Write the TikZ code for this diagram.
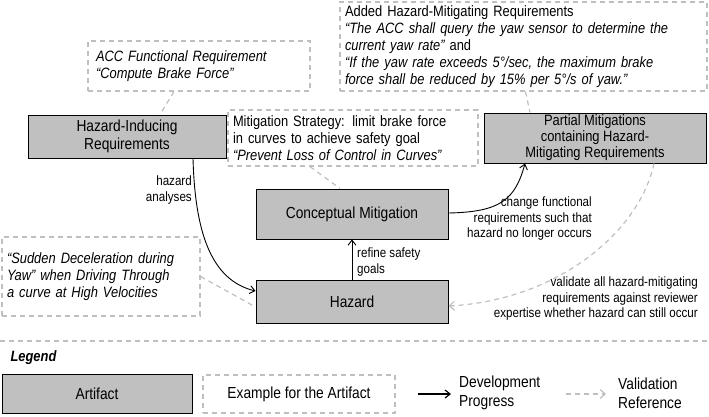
\documentclass[tikz,border=0pt]{standalone}
\usepackage{fontspec}
\setmainfont[FakeStretch=0.86]{Liberation Sans}
\usetikzlibrary{arrows.meta}
\definecolor{boxg}{HTML}{C0C0C0}
\definecolor{dg}{HTML}{BFBFBF}
\tikzset{
 art/.style={draw=black,fill=boxg,line width=1pt,align=center,font=\fontsize{16}{18}\selectfont},
 ex/.style={draw=dg,dashed,line width=1.2pt,dash pattern=on 5pt off 4pt,align=left,font=\fontsize{15}{17}\selectfont,inner sep=0pt},
 dev/.style={-{Straight Barb[length=5pt,width=8pt]},line width=0.9pt},
 val/.style={draw=dg,line width=1.2pt,dash pattern=on 5pt off 4pt,-{Straight Barb[length=5pt,width=9pt]}},
 vline/.style={draw=dg,line width=1.2pt,dash pattern=on 5pt off 4pt},
 lab/.style={font=\fontsize{13.5}{15.5}\selectfont,inner sep=0pt}
}
\begin{document}
\begin{tikzpicture}[x=1pt,y=-1pt]
\useasboundingbox (0,0) rectangle (709,416);
% artifacts
\node[art,minimum width=198,minimum height=43,inner sep=1pt] (hir) at (127,136.5) {Hazard-Inducing\\Requirements};
\node[art,minimum width=222,minimum height=50,inner sep=0pt,font=\fontsize{15}{16}\selectfont] (pm) at (595,138) {Partial Mitigations\\containing Hazard-\\Mitigating Requirements};
\node[art,minimum width=192,minimum height=50] (cm) at (352,214) {Conceptual Mitigation};
\node[art,minimum width=192,minimum height=43] (hz) at (352,301.5) {Hazard};
% examples
\node[ex,minimum width=222,minimum height=50,text width=206] (acc) at (199,66) {\itshape ACC Functional Requirement\\``Compute Brake Force''};
\node[ex,minimum width=367,minimum height=89,text width=357] (add) at (523.5,46.5) {Added Hazard-Mitigating Requirements\\\itshape ``The ACC shall query the yaw sensor to determine the\\current yaw rate''\upshape{} and\\\itshape ``If the yaw rate exceeds 5°/sec, the maximum brake\\force shall be reduced by 15\% per 5°/s of yaw.''};
\node[ex,minimum width=250,minimum height=56,text width=240] (ms) at (353,138) {Mitigation Strategy: limit brake force\\in curves to achieve safety goal\\\itshape ``Prevent Loss of Control in Curves''};
\node[ex,minimum width=198,minimum height=79,text width=188] (sd) at (101,276.5) {\itshape ``Sudden Deceleration during\\Yaw'' when Driving Through\\a curve at High Velocities};
% validation links
\draw[vline] (acc.south) ++(-25,0) coordinate (a1) -- (hir.north -| 160,0);
\draw[vline] (add.south) ++(2,0) -- (pm.north -| 530,0);
\draw[vline] (ms.south) ++(-43,0) -- (cm.north -| 340,0);
\draw[vline] (sd.east) -- (hz.west |- 0,307);
\draw[val] (pm.south -| 654,0) .. controls (640,230) and (560,300) .. (hz.east |- 0,306);
% development
\draw[dev] (hir.south -| 193,0) .. controls (195,230) and (210,280) .. (hz.west |- 0,291);
\draw[dev] (hz.north) -- (cm.south);
\draw[dev] (cm.east |- 0,213) .. controls (500,212) and (515,200) .. (pm.south -| 525,0);
% labels
\node[lab,align=right,anchor=north east] (l1) at (192,176) {hazard\\analyses};
\node[lab,align=left,anchor=north west] (l2) at (357,248) {refine safety\\goals};
\node[lab,align=right,anchor=north east] (l3) at (592,197) {change functional\\requirements such that\\hazard no longer occurs};
\node[lab,align=right,anchor=north east] (l4) at (698,277) {validate all hazard-mitigating\\requirements against reviewer\\expertise whether hazard can still occur};
% legend
\coordinate (d1) at (0,341); \coordinate (d2) at (709,341);
\draw[vline] (d1) -- (d2);
\node[anchor=west,font=\bfseries\itshape\fontsize{15}{17}\selectfont] (lg) at (7,358) {Legend};
\node[art,minimum width=190,minimum height=39] (la) at (97,393.5) {Artifact};
\node[ex,minimum width=192,minimum height=38,align=center,font=\fontsize{16}{18}\selectfont] (le) at (299,394) {Example for the Artifact};
\coordinate (da) at (418,394); \coordinate (db) at (451,394);
\draw[dev,line width=1.2pt] (da) -- (db);
\node[anchor=west,align=left,font=\fontsize{16}{19}\selectfont,inner sep=0pt] (ld) at (459,393) {Development\\Progress};
\coordinate (va) at (566,394); \coordinate (vb) at (606,394);
\draw[val] (va) -- (vb);
\node[anchor=west,align=left,font=\fontsize{16}{19}\selectfont,inner sep=0pt] (lv) at (618,393) {Validation\\Reference};
\end{tikzpicture}
\end{document}
